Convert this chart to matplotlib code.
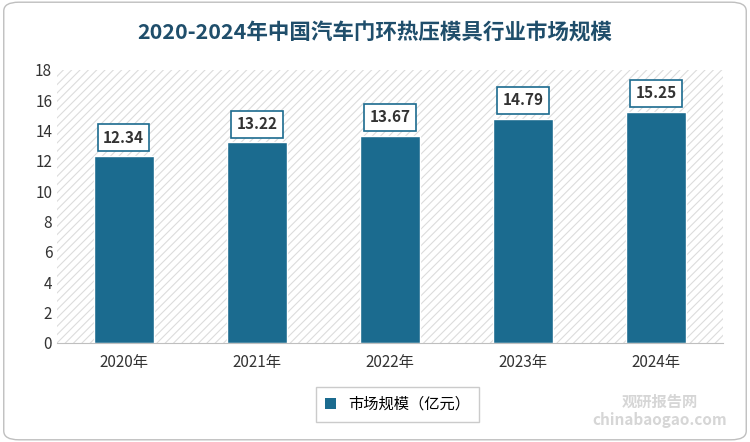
import matplotlib
matplotlib.use("Agg")
import matplotlib.pyplot as plt
from matplotlib.patches import FancyBboxPatch
from matplotlib import font_manager

names = {f.name for f in font_manager.fontManager.ttflist}
cjk = [n for n in ['Noto Sans CJK SC', 'Noto Sans CJK JP', 'Noto Sans CJK TC', 'Noto Sans CJK KR'] if n in names]
plt.rcParams['font.family'] = cjk + ['DejaVu Sans']
plt.rcParams['hatch.linewidth'] = 0.8

years = ["2020年", "2021年", "2022年", "2023年", "2024年"]
values = [12.34, 13.22, 13.67, 14.79, 15.25]
yticks = [0, 2, 4, 6, 8, 10, 12, 14, 16, 18]

fig = plt.figure(figsize=(7.5, 4.42), dpi=100)
border = FancyBboxPatch((0.005, 0.005), 0.99, 0.99, boxstyle="round,pad=0,rounding_size=0.02",
                        transform=fig.transFigure, fc='white', ec='#bfbfbf', lw=1, zorder=-10)
fig.patches.append(border)
ax = fig.add_axes([0.076, 0.224, 0.888, 0.618])
ax.set_facecolor('none')
ax.add_patch(plt.Rectangle((0, 0), 1, 1, transform=ax.transAxes, fc='white', ec='#dcdcdc', lw=0,
                           hatch='////', zorder=0))
color = '#1b6b8f'
x = range(len(years))
ax.bar(x, values, width=0.45, color=color, edgecolor='white', linewidth=1, zorder=2)
for i, v in zip(x, values):
    ax.text(i, v + 1.2, f"{v:.2f}", ha='center', va='center', fontsize=11, fontweight='bold', color='#333333',
            bbox=dict(boxstyle='square,pad=0.35', fc='white', ec=color, lw=1.2), zorder=3)
ax.set_xlim(-0.5, len(years) - 0.5)
ax.set_ylim(0, 18)
ax.set_yticks(yticks)
ax.set_xticks(list(x))
ax.set_xticklabels(years, fontsize=11, color='#333333')
ax.tick_params(axis='y', labelsize=11, colors='#333333', length=0)
ax.tick_params(axis='x', length=0, pad=8)
for s in ['top', 'right', 'left']:
    ax.spines[s].set_visible(False)
ax.spines['bottom'].set_color('#bfbfbf')
fig.text(0.5, 0.925, "2020-2024年中国汽车门环热压模具行业市场规模", ha='center', va='center',
         fontsize=15.5, fontweight='bold', color='#1f4e6b')
leg = fig.legend([plt.Rectangle((0, 0), 1, 1, fc=color)], ["市场规模（亿元）"], loc='center',
                 bbox_to_anchor=(0.53, 0.085), fontsize=11, frameon=True, fancybox=False,
                 edgecolor='#bfbfbf', handlelength=0.7, handleheight=0.7, borderpad=0.6)
fig.text(0.88, 0.07, "观研报告网\nchinabaogao.com", ha='center', va='center', fontsize=11,
         color='#cccccc', fontweight='bold', alpha=0.8)
fig.savefig("out.png", dpi=100)
